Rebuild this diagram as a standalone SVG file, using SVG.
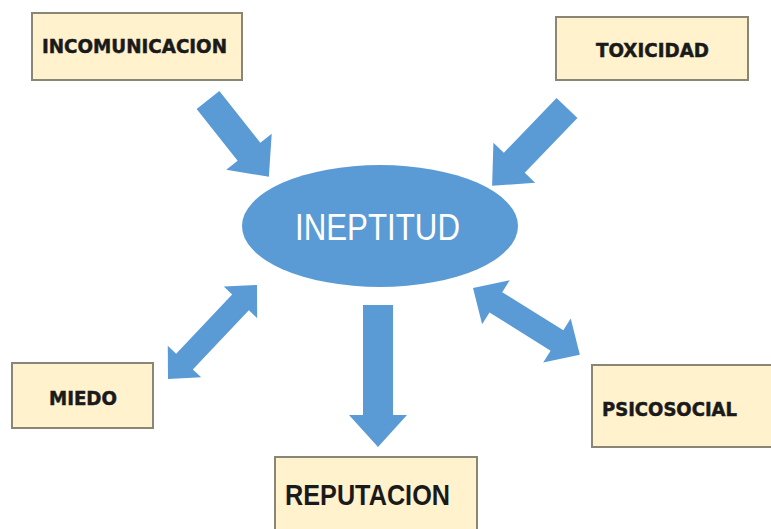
<svg xmlns="http://www.w3.org/2000/svg" width="771" height="529" viewBox="0 0 771 529">
  <defs>
    <style>
      .box { fill: #FFF2CC; stroke: #8A8676; stroke-width: 2; }
      .lbl { font-family: "DejaVu Sans", Verdana, sans-serif; font-weight: bold; font-size: 19px; fill: #1A1A1A; stroke: #1A1A1A; stroke-width: 0.5; }
      .big { font-family: "Liberation Sans", Arial, sans-serif; font-weight: bold; font-size: 30px; fill: #1A1A1A; }
      .hub { fill: #5B9BD5; }
      .hubtxt { font-family: "Liberation Sans", Arial, sans-serif; font-size: 37px; fill: #FFFFFF; }
      .arrow { fill: #5B9BD5; }
    </style>
  </defs>
  <rect width="771" height="529" fill="#FFFFFF"/>

  <!-- connectors: block arrows, drawn along +x and rotated into place -->
  <g id="connectors">
    <!-- single arrow: shaft half-width 14.5, head half-width 29, head length 32 -->
    <polygon class="arrow" transform="translate(208,100) rotate(51.6)"
             points="0,-14.5 66,-14.5 66,-29 98,0 66,29 66,14.5 0,14.5"/>
    <polygon class="arrow" transform="translate(567,108) rotate(133.9)"
             points="0,-14.5 76,-14.5 76,-29 108,0 76,29 76,14.5 0,14.5"/>
    <polygon class="arrow" transform="translate(378,305) rotate(90)"
             points="0,-15 110,-15 110,-29 142,0 110,29 110,15 0,15"/>
    <!-- double-headed arrows -->
    <polygon class="arrow" transform="translate(168,379) rotate(-46.6)"
             points="0,0 24,-23 24,-11.5 105.5,-11.5 105.5,-23 129.5,0 105.5,23 105.5,11.5 24,11.5 24,23"/>
    <polygon class="arrow" transform="translate(473,288) rotate(32)"
             points="0,0 27,-26 27,-12 99,-12 99,-26 126,0 99,26 99,12 27,12 27,26"/>
  </g>

  <g id="ineptitud">
    <ellipse class="hub" cx="380" cy="226" rx="138" ry="61"/>
    <text class="hubtxt" x="295" y="240" textLength="165" lengthAdjust="spacingAndGlyphs">INEPTITUD</text>
  </g>

  <g id="incomunicacion">
    <rect class="box" x="32" y="13" width="210" height="67"/>
    <text class="lbl" x="42" y="53" textLength="185" lengthAdjust="spacingAndGlyphs">INCOMUNICACION</text>
  </g>

  <g id="toxicidad">
    <rect class="box" x="556" y="17" width="192" height="63"/>
    <text class="lbl" x="596" y="57" textLength="113" lengthAdjust="spacingAndGlyphs">TOXICIDAD</text>
  </g>

  <g id="miedo">
    <rect class="box" x="12" y="363" width="141" height="65"/>
    <text class="lbl" x="49" y="405" textLength="68" lengthAdjust="spacingAndGlyphs">MIEDO</text>
  </g>

  <g id="psicosocial">
    <rect class="box" x="592" y="365" width="185" height="82"/>
    <text class="lbl" x="602" y="416" textLength="135" lengthAdjust="spacingAndGlyphs">PSICOSOCIAL</text>
  </g>

  <g id="reputacion">
    <rect class="box" x="275" y="457" width="202" height="80"/>
    <text class="big" x="285" y="505" textLength="165" lengthAdjust="spacingAndGlyphs">REPUTACION</text>
  </g>
</svg>
